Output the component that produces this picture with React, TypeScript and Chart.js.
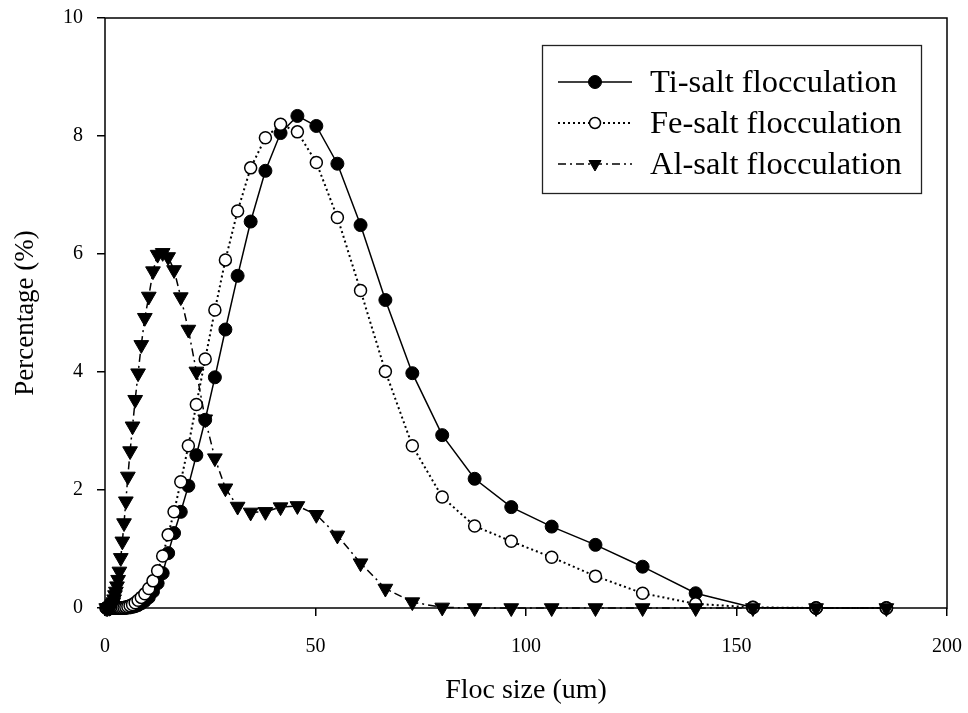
import React, { useEffect, useRef } from 'react';
import { Chart, registerables } from 'chart.js';

Chart.register(...registerables);

// Floc size bins (um)
const sizes = [
  0.3, 0.6, 1.0, 1.24, 1.36, 1.49, 1.63, 1.79, 1.97, 2.16,
  2.37, 2.59, 2.85, 3.12, 3.42, 3.75, 4.12, 4.52, 4.95, 5.43,
  5.96, 6.54, 7.17, 7.86, 8.62, 9.46, 10.4, 11.4, 12.5, 13.7,
  15.0, 16.4, 18.0, 19.8, 21.7, 23.8, 26.1, 28.6, 31.5, 34.6,
  38.1, 41.7, 45.7, 50.2, 55.2, 60.7, 66.6, 73.0, 80.1, 87.8,
  96.5, 106.1, 116.5, 127.7, 140.3, 153.9, 168.9, 185.6,
];

// Percentage (%) per bin
const tiSalt = [
  0, 0, 0, 0, 0, 0, 0, 0, 0, 0,
  0, 0, 0, 0, 0, 0, 0, 0, 0, 0.01,
  0.01, 0.02, 0.03, 0.05, 0.08, 0.12, 0.18, 0.28, 0.42, 0.59,
  0.93, 1.27, 1.63, 2.07, 2.59, 3.19, 3.91, 4.72, 5.63, 6.55,
  7.41, 8.05, 8.34, 8.17, 7.53, 6.49, 5.22, 3.98, 2.93, 2.19,
  1.71, 1.38, 1.07, 0.70, 0.25, 0.01, 0, 0,
];

const feSalt = [
  0, 0, 0, 0, 0, 0, 0, 0, 0, 0,
  0, 0, 0, 0, 0, 0, 0.003, 0.008, 0.015, 0.025,
  0.04, 0.06, 0.09, 0.13, 0.18, 0.24, 0.33, 0.46, 0.63, 0.88,
  1.24, 1.63, 2.14, 2.75, 3.45, 4.22, 5.05, 5.90, 6.73, 7.46,
  7.97, 8.20, 8.07, 7.55, 6.62, 5.38, 4.01, 2.75, 1.88, 1.39,
  1.13, 0.86, 0.54, 0.25, 0.07, 0.01, 0, 0,
];

const alSalt = [
  0, 0, 0.005, 0.01, 0.02, 0.03, 0.05, 0.07, 0.10, 0.15,
  0.22, 0.28, 0.37, 0.48, 0.62, 0.85, 1.13, 1.44, 1.81, 2.23,
  2.66, 3.08, 3.53, 3.98, 4.46, 4.92, 5.28, 5.71, 5.99, 6.02,
  5.95, 5.73, 5.27, 4.72, 4.01, 3.20, 2.54, 2.03, 1.72, 1.62,
  1.63, 1.71, 1.73, 1.58, 1.23, 0.76, 0.33, 0.10, 0.01, 0,
  0, 0, 0, 0, 0, 0, 0, 0,
];

const seriesNames = ['Ti-salt flocculation', 'Fe-salt flocculation', 'Al-salt flocculation'];
const xTicks = [0, 50, 100, 150, 200];
const yTicks = [0, 2, 4, 6, 8, 10];

const FONT = '"Liberation Serif", "Times New Roman", Times, serif';

function drawMarker(
  ctx: CanvasRenderingContext2D,
  style: string,
  x: number,
  y: number,
  r: number,
  fill: string,
  stroke: string,
  lw: number
) {
  ctx.save();
  ctx.setLineDash([]);
  ctx.beginPath();
  if (style === 'triangle') {
    ctx.moveTo(x, y + r);
    ctx.lineTo(x - 0.866 * r, y - 0.5 * r);
    ctx.lineTo(x + 0.866 * r, y - 0.5 * r);
    ctx.closePath();
  } else {
    ctx.arc(x, y, r, 0, Math.PI * 2);
  }
  ctx.fillStyle = fill;
  ctx.fill();
  ctx.lineWidth = lw;
  ctx.strokeStyle = stroke;
  ctx.stroke();
  ctx.restore();
}

const framePlugin = {
  id: 'frameBox',
  beforeDatasetsDraw(chart: any) {
    const { ctx, chartArea: a } = chart;
    ctx.save();
    ctx.strokeStyle = '#000';
    ctx.lineWidth = 1.5;
    ctx.strokeRect(a.left, a.top, a.right - a.left, a.bottom - a.top);
    ctx.restore();
  },
};

const boxLegendPlugin = {
  id: 'boxLegend',
  afterDraw(chart: any) {
    const { ctx, chartArea: a } = chart;
    const w = 379;
    const h = 148;
    const left = a.right - 26 - w;
    const top = a.top + 27;
    ctx.save();
    ctx.strokeStyle = '#222';
    ctx.lineWidth = 1.3;
    ctx.strokeRect(left + 0.5, top + 0.5, w, h);
    chart.data.datasets.forEach((ds: any, i: number) => {
      const y = top + 37 + i * 41;
      ctx.save();
      ctx.strokeStyle = '#000';
      ctx.lineWidth = ds.borderWidth;
      ctx.setLineDash(ds.borderDash || []);
      ctx.beginPath();
      ctx.moveTo(left + 16, y);
      ctx.lineTo(left + 90, y);
      ctx.stroke();
      ctx.restore();
      drawMarker(
        ctx,
        ds.pointStyle,
        left + 53,
        y,
        ds.legendRadius,
        ds.pointBackgroundColor,
        ds.pointBorderColor,
        ds.pointBorderWidth
      );
      ctx.fillStyle = '#000';
      ctx.font = `32.5px ${FONT}`;
      ctx.textBaseline = 'middle';
      ctx.textAlign = 'left';
      ctx.fillText(ds.label, left + 108, y + 1);
    });
    ctx.restore();
  },
};

export default function App() {
  const canvasRef = useRef<HTMLCanvasElement | null>(null);

  useEffect(() => {
    if (!canvasRef.current) return;
    const toPts = (vals: number[]) => sizes.map((s, i) => ({ x: s, y: vals[i] }));
    const chart = new Chart(canvasRef.current, {
      type: 'line',
      data: {
        datasets: [
          {
            label: seriesNames[0],
            data: toPts(tiSalt),
            borderColor: '#000',
            borderWidth: 1.5,
            pointStyle: 'circle',
            pointRadius: 6.5,
            pointBackgroundColor: '#000',
            pointBorderColor: '#000',
            pointBorderWidth: 1,
            legendRadius: 6.5,
            order: 3,
            clip: false,
            tension: 0,
          } as any,
          {
            label: seriesNames[1],
            data: toPts(feSalt),
            borderColor: '#000',
            borderWidth: 2,
            borderDash: [2, 3],
            pointStyle: 'circle',
            pointRadius: 6,
            pointBackgroundColor: '#fff',
            pointBorderColor: '#000',
            pointBorderWidth: 1.5,
            legendRadius: 5.5,
            order: 2,
            clip: false,
            tension: 0,
          } as any,
          {
            label: seriesNames[2],
            data: toPts(alSalt),
            borderColor: '#000',
            borderWidth: 1.5,
            borderDash: [8, 4, 2, 4],
            pointStyle: 'triangle',
            rotation: 180,
            pointRotation: 180,
            pointRadius: 8.5,
            pointBackgroundColor: '#000',
            pointBorderColor: '#000',
            pointBorderWidth: 1,
            legendRadius: 7,
            order: 1,
            clip: false,
            tension: 0,
          } as any,
        ],
      },
      options: {
        responsive: true,
        maintainAspectRatio: false,
        animation: false,
        layout: { autoPadding: false, padding: { left: 0, right: 21, top: 18, bottom: 0 } },
        plugins: {
          legend: { display: false },
          tooltip: { enabled: false },
        },
        scales: {
          x: {
            type: 'linear',
            min: 0,
            max: 200,
            afterBuildTicks: (s: any) => {
              s.ticks = xTicks.map((v) => ({ value: v }));
            },
            afterFit: (s: any) => {
              s.height = 105;
              s.paddingLeft = 0;
              s.paddingRight = 0;
            },
            ticks: {
              color: '#000',
              font: { family: FONT, size: 20 },
              padding: 19,
              maxRotation: 0,
              autoSkip: false,
            },
            grid: {
              drawOnChartArea: false,
              drawTicks: true,
              tickLength: 8,
              color: '#000',
              lineWidth: 1.5,
            },
            border: { display: false },
            title: {
              display: true,
              text: 'Floc size (um)',
              color: '#000',
              font: { family: FONT, size: 28 },
              padding: { top: 0, bottom: 6 },
            },
          },
          y: {
            type: 'linear',
            min: 0,
            max: 10,
            afterBuildTicks: (s: any) => {
              s.ticks = yTicks.map((v) => ({ value: v }));
            },
            afterFit: (s: any) => {
              s.width = 105;
              s.paddingTop = 0;
              s.paddingBottom = 0;
            },
            ticks: {
              color: '#000',
              font: { family: FONT, size: 20 },
              padding: 14,
              autoSkip: false,
            },
            grid: {
              drawOnChartArea: false,
              drawTicks: true,
              tickLength: 8,
              color: '#000',
              lineWidth: 1.5,
            },
            border: { display: false },
            title: {
              display: true,
              text: 'Percentage (%)',
              color: '#000',
              font: { family: FONT, size: 27 },
              padding: { top: 10, bottom: 0 },
            },
          },
        },
      } as any,
      plugins: [framePlugin, boxLegendPlugin],
    });
    return () => chart.destroy();
  }, []);

  return (
    <div style={{ position: 'absolute', left: 0, top: 0, width: 968, height: 713, background: '#fff' }}>
      <canvas ref={canvasRef} style={{ display: 'block' }} />
    </div>
  );
}
